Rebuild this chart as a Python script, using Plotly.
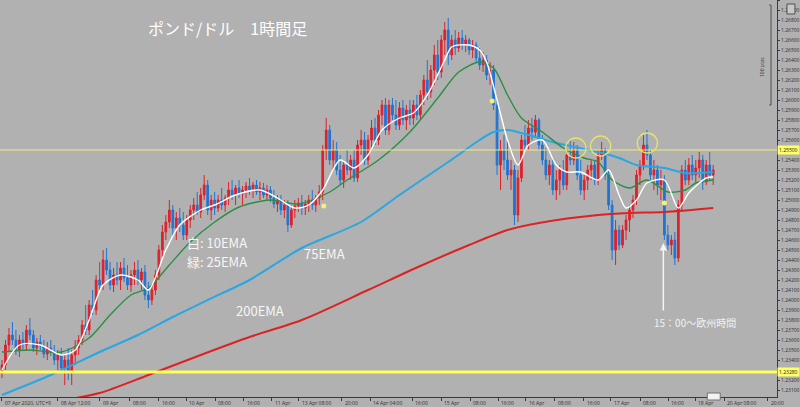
import plotly.graph_objects as go

# ---------------- data (GBP/USD, 1-hour bars) ----------------
bar_index = list(range(205))

opens = [1.2328,1.2335,1.2355,1.2365,1.2360,1.2350,1.2360,1.2355,1.2370,1.2365,
1.2352,1.2358,1.2354,1.2346,1.2352,1.2348,1.2340,1.2345,1.2332,1.2340,
1.2328,1.2345,1.2352,1.2360,1.2375,1.2370,1.2395,1.2390,1.2420,1.2415,
1.2440,1.2430,1.2415,1.2425,1.2420,1.2432,1.2422,1.2415,1.2425,1.2430,
1.2420,1.2428,1.2405,1.2400,1.2410,1.2425,1.2450,1.2468,1.2478,1.2490,
1.2472,1.2482,1.2475,1.2465,1.2480,1.2490,1.2495,1.2488,1.2505,1.2515,
1.2490,1.2500,1.2492,1.2500,1.2495,1.2502,1.2510,1.2505,1.2512,1.2506,
1.2510,1.2514,1.2510,1.2515,1.2508,1.2512,1.2505,1.2510,1.2502,1.2496,
1.2500,1.2490,1.2495,1.2475,1.2490,1.2494,1.2497,1.2492,1.2496,1.2500,
1.2495,1.2502,1.2508,1.2550,1.2570,1.2540,1.2550,1.2530,1.2520,1.2535,
1.2530,1.2540,1.2522,1.2555,1.2560,1.2540,1.2560,1.2572,1.2560,1.2585,
1.2595,1.2570,1.2595,1.2585,1.2575,1.2592,1.2580,1.2590,1.2582,1.2595,
1.2585,1.2605,1.2620,1.2608,1.2630,1.2645,1.2628,1.2660,1.2670,1.2645,
1.2660,1.2652,1.2662,1.2655,1.2660,1.2650,1.2655,1.2642,1.2635,1.2640,
1.2625,1.2630,1.2595,1.2535,1.2550,1.2540,1.2525,1.2530,1.2485,1.2522,
1.2560,1.2555,1.2572,1.2568,1.2580,1.2555,1.2540,1.2525,1.2535,1.2510,
1.2520,1.2530,1.2515,1.2545,1.2540,1.2550,1.2525,1.2510,1.2520,1.2530,
1.2535,1.2520,1.2545,1.2550,1.2525,1.2495,1.2450,1.2470,1.2455,1.2470,
1.2480,1.2490,1.2500,1.2525,1.2535,1.2555,1.2545,1.2525,1.2530,1.2515,
1.2520,1.2465,1.2455,1.2460,1.2442,1.2495,1.2530,1.2520,1.2535,1.2525,
1.2532,1.2540,1.2518,1.2535,1.2525]

highs = [1.2340,1.2360,1.2372,1.2378,1.2370,1.2365,1.2368,1.2375,1.2382,1.2370,
1.2362,1.2365,1.2360,1.2358,1.2360,1.2355,1.2350,1.2352,1.2345,1.2352,
1.2350,1.2360,1.2365,1.2380,1.2395,1.2400,1.2410,1.2425,1.2438,1.2450,
1.2452,1.2438,1.2432,1.2438,1.2438,1.2442,1.2435,1.2430,1.2438,1.2440,
1.2432,1.2435,1.2418,1.2415,1.2430,1.2455,1.2475,1.2485,1.2500,1.2495,
1.2488,1.2492,1.2488,1.2485,1.2495,1.2502,1.2508,1.2512,1.2525,1.2520,
1.2505,1.2508,1.2505,1.2512,1.2505,1.2518,1.2520,1.2515,1.2520,1.2514,
1.2518,1.2522,1.2518,1.2520,1.2518,1.2517,1.2515,1.2514,1.2510,1.2505,
1.2505,1.2500,1.2500,1.2495,1.2500,1.2502,1.2505,1.2500,1.2505,1.2510,
1.2505,1.2515,1.2555,1.2582,1.2575,1.2560,1.2558,1.2545,1.2540,1.2550,
1.2545,1.2550,1.2560,1.2570,1.2568,1.2565,1.2580,1.2582,1.2590,1.2600,
1.2602,1.2600,1.2602,1.2600,1.2598,1.2600,1.2595,1.2600,1.2600,1.2605,
1.2610,1.2625,1.2640,1.2635,1.2655,1.2660,1.2665,1.2678,1.2682,1.2665,
1.2670,1.2668,1.2670,1.2665,1.2662,1.2660,1.2658,1.2652,1.2648,1.2645,
1.2638,1.2635,1.2600,1.2560,1.2565,1.2560,1.2540,1.2535,1.2530,1.2565,
1.2575,1.2580,1.2582,1.2585,1.2582,1.2565,1.2552,1.2540,1.2542,1.2530,
1.2535,1.2540,1.2550,1.2560,1.2558,1.2555,1.2540,1.2525,1.2535,1.2540,
1.2540,1.2550,1.2558,1.2552,1.2530,1.2500,1.2480,1.2475,1.2475,1.2485,
1.2495,1.2505,1.2530,1.2540,1.2565,1.2570,1.2550,1.2540,1.2535,1.2530,
1.2525,1.2475,1.2465,1.2468,1.2500,1.2535,1.2540,1.2542,1.2545,1.2540,
1.2548,1.2545,1.2540,1.2548,1.2535]

lows = [1.2322,1.2330,1.2348,1.2355,1.2345,1.2343,1.2350,1.2350,1.2360,1.2348,
1.2345,1.2350,1.2342,1.2340,1.2344,1.2335,1.2330,1.2328,1.2315,1.2320,
1.2315,1.2335,1.2345,1.2355,1.2365,1.2365,1.2385,1.2385,1.2410,1.2410,
1.2425,1.2410,1.2408,1.2415,1.2410,1.2418,1.2410,1.2408,1.2415,1.2415,
1.2410,1.2400,1.2392,1.2395,1.2405,1.2420,1.2442,1.2460,1.2472,1.2465,
1.2460,1.2468,1.2460,1.2460,1.2472,1.2480,1.2485,1.2482,1.2500,1.2485,
1.2480,1.2485,1.2488,1.2490,1.2488,1.2495,1.2500,1.2495,1.2502,1.2495,
1.2502,1.2505,1.2502,1.2505,1.2500,1.2502,1.2500,1.2498,1.2492,1.2488,
1.2485,1.2482,1.2468,1.2472,1.2482,1.2488,1.2485,1.2485,1.2488,1.2490,
1.2488,1.2495,1.2500,1.2540,1.2535,1.2530,1.2525,1.2515,1.2512,1.2525,
1.2520,1.2518,1.2518,1.2545,1.2535,1.2535,1.2550,1.2555,1.2555,1.2575,
1.2565,1.2565,1.2580,1.2570,1.2570,1.2575,1.2570,1.2575,1.2575,1.2580,
1.2580,1.2595,1.2600,1.2602,1.2615,1.2620,1.2622,1.2645,1.2635,1.2640,
1.2645,1.2648,1.2650,1.2648,1.2645,1.2642,1.2638,1.2630,1.2628,1.2620,
1.2615,1.2590,1.2525,1.2510,1.2530,1.2520,1.2510,1.2475,1.2478,1.2518,
1.2550,1.2550,1.2560,1.2562,1.2550,1.2535,1.2520,1.2515,1.2505,1.2500,
1.2505,1.2510,1.2510,1.2535,1.2535,1.2520,1.2505,1.2500,1.2510,1.2520,
1.2515,1.2515,1.2540,1.2520,1.2490,1.2440,1.2435,1.2450,1.2452,1.2460,
1.2468,1.2482,1.2495,1.2515,1.2530,1.2540,1.2520,1.2510,1.2505,1.2500,
1.2460,1.2450,1.2445,1.2435,1.2438,1.2490,1.2515,1.2515,1.2520,1.2518,
1.2522,1.2510,1.2515,1.2520,1.2515]

closes = [1.2335,1.2355,1.2365,1.2360,1.2350,1.2360,1.2355,1.2370,1.2365,1.2352,
1.2358,1.2354,1.2346,1.2352,1.2348,1.2340,1.2345,1.2332,1.2340,1.2328,
1.2345,1.2352,1.2360,1.2375,1.2370,1.2395,1.2390,1.2420,1.2415,1.2440,
1.2430,1.2415,1.2425,1.2420,1.2432,1.2422,1.2415,1.2425,1.2430,1.2420,
1.2428,1.2405,1.2400,1.2410,1.2425,1.2450,1.2468,1.2478,1.2490,1.2472,
1.2482,1.2475,1.2465,1.2480,1.2490,1.2495,1.2488,1.2505,1.2515,1.2490,
1.2500,1.2492,1.2500,1.2495,1.2502,1.2510,1.2505,1.2512,1.2506,1.2510,
1.2514,1.2510,1.2515,1.2508,1.2512,1.2505,1.2510,1.2502,1.2496,1.2500,
1.2490,1.2495,1.2475,1.2490,1.2494,1.2497,1.2492,1.2496,1.2500,1.2495,
1.2502,1.2508,1.2550,1.2570,1.2540,1.2550,1.2530,1.2520,1.2535,1.2530,
1.2540,1.2522,1.2555,1.2560,1.2540,1.2560,1.2572,1.2560,1.2585,1.2595,
1.2570,1.2595,1.2585,1.2575,1.2592,1.2580,1.2590,1.2582,1.2595,1.2585,
1.2605,1.2620,1.2608,1.2630,1.2645,1.2628,1.2660,1.2670,1.2645,1.2660,
1.2652,1.2662,1.2655,1.2660,1.2650,1.2655,1.2642,1.2635,1.2640,1.2625,
1.2630,1.2595,1.2535,1.2550,1.2540,1.2525,1.2530,1.2485,1.2522,1.2560,
1.2555,1.2572,1.2568,1.2580,1.2555,1.2540,1.2525,1.2535,1.2510,1.2520,
1.2530,1.2515,1.2545,1.2540,1.2550,1.2525,1.2510,1.2520,1.2530,1.2535,
1.2520,1.2545,1.2550,1.2525,1.2495,1.2450,1.2470,1.2455,1.2470,1.2480,
1.2490,1.2500,1.2525,1.2535,1.2555,1.2545,1.2525,1.2530,1.2515,1.2520,
1.2465,1.2455,1.2460,1.2442,1.2495,1.2530,1.2520,1.2535,1.2525,1.2532,
1.2540,1.2518,1.2535,1.2525,1.2530]

ema10_idx = [0,5,11,17,21,25,29,34,39,42,47,51,57,61,67,74,79,84,88,92,97,101,105,109,114,118,
             122,127,129,134,137,139,142,145,148,151,155,159,162,166,171,174,177,179,182,185,190,194,197,202,204]
ema10_val = [1.2330,1.2355,1.2355,1.2345,1.2350,1.2380,1.2415,1.2425,1.2420,1.2410,1.2450,1.2475,1.2490,
             1.2495,1.2505,1.2510,1.2502,1.2492,1.2495,1.2510,1.2540,1.2532,1.2545,1.2570,1.2582,1.2587,
             1.2605,1.2640,1.2653,1.2655,1.2650,1.2638,1.2600,1.2560,1.2535,1.2555,1.2560,1.2535,1.2528,
             1.2528,1.2520,1.2530,1.2505,1.2492,1.2500,1.2517,1.2520,1.2492,1.2507,1.2522,1.2523]

ema25_idx = [0,8,17,25,31,37,42,48,54,61,68,77,85,94,99,108,117,125,131,137,141,145,149,155,161,
             167,171,175,180,185,191,196,199,204]
ema25_val = [1.2348,1.2350,1.2348,1.2362,1.2385,1.2405,1.2412,1.2435,1.2458,1.2478,1.2493,1.2500,1.2496,
             1.2508,1.2520,1.2540,1.2568,1.2602,1.2628,1.2638,1.2632,1.2605,1.2582,1.2568,1.2552,1.2542,
             1.2538,1.2520,1.2512,1.2520,1.2508,1.2510,1.2517,1.2520]

ema75_idx = [0,14,28,39,49,59,71,86,103,114,128,137,141,145,151,159,171,177,182,190,196,204]
ema75_val = [1.2305,1.2325,1.2348,1.2365,1.2383,1.2400,1.2420,1.2452,1.2478,1.2505,1.2538,1.2560,1.2568,
             1.2570,1.2565,1.2557,1.2548,1.2542,1.2535,1.2532,1.2527,1.2528]

ema200_idx = [18,28,42,57,71,86,105,120,134,145,154,171,180,190,204]
ema200_val = [1.2300,1.2307,1.2325,1.2345,1.2363,1.2380,1.2410,1.2434,1.2455,1.2470,1.2477,1.2485,1.2487,
              1.2488,1.2492]

xtick_pos = [0,16,28,36.6,44.9,52.9,61.1,69.4,77.4,85.1,97.4,105.7,117.7,126,134.3,142.3,150.3,158.6,
             166.9,174.6,183.1,191.1,198.9,207.1,219.7]
xtick_text = ["07 Apr 2020, UTC+9","08 Apr 12:00","09 Apr","08:00","16:00","10 Apr","08:00","16:00",
              "11 Apr","13 Apr 08:00","20:00","14 Apr 04:00","16:00","15 Apr","08:00","16:00","16 Apr",
              "08:00","16:00","17 Apr","08:00","16:00","18 Apr","20 Apr 08:00","20:00"]

level_upper = 1.2550
level_lower = 1.2328

mark_idx = [92.3, 140.6, 190]
mark_val = [1.2494, 1.2599, 1.2497]

circle_idx = [164.6, 171.7, 185.1]
circle_val = [1.2552, 1.2554, 1.2557]

# ---------------- styling ----------------
BG = "#b1b1b1"
RED = "#e0202a"
BLUE = "#1f74d4"
JP = "Noto Sans CJK JP"

# price-axis ticks every 10 pips, skipping those hidden behind the level labels
ytick_vals = [round(1.2300 + k * 0.001, 4) for k in range(41)]
ytick_vals = [v for v in ytick_vals
              if abs(v - level_upper) > 0.0006 and abs(v - level_lower) > 0.0006]

fig = go.Figure()

fig.add_trace(go.Candlestick(
    x=bar_index, open=opens, high=highs, low=lows, close=closes,
    increasing=dict(line=dict(color=RED, width=1), fillcolor=RED),
    decreasing=dict(line=dict(color=BLUE, width=1), fillcolor=BLUE),
    whiskerwidth=0, hoverinfo="skip", showlegend=False))

for xs, ys, col, w in [(ema200_idx, ema200_val, "#dc2222", 2.0),
                       (ema75_idx, ema75_val, "#2aa6e2", 2.0),
                       (ema25_idx, ema25_val, "#2b8f43", 1.4),
                       (ema10_idx, ema10_val, "#ffffff", 1.4)]:
    fig.add_trace(go.Scatter(x=xs, y=ys, mode="lines",
                             line=dict(color=col, width=w, shape="spline", smoothing=0.8),
                             hoverinfo="skip", showlegend=False))

fig.add_trace(go.Scatter(x=mark_idx, y=mark_val, mode="markers",
                         marker=dict(color="#f4f07a", size=5), hoverinfo="skip", showlegend=False))

# horizontal levels
fig.add_hline(y=level_upper, line=dict(color="#ecec7a", width=1))
fig.add_hline(y=level_lower, line=dict(color="#ffff55", width=3))

# circles
for cx, cy in zip(circle_idx, circle_val):
    fig.add_shape(type="circle", xref="x", yref="y",
                  x0=cx - 2.9, x1=cx + 2.9, y0=cy - 0.0010, y1=cy + 0.0010,
                  line=dict(color="#e8e26a", width=1.3))

# 100 pips scale bar
fig.add_shape(type="line", xref="paper", yref="paper", x0=0.9923, x1=0.9923,
              y0=1 - 5 / 397, y1=1 - 105 / 397, line=dict(color="#505050", width=1))
for yy in (5, 105):
    fig.add_shape(type="line", xref="paper", yref="paper", x0=0.990, x1=0.9923,
                  y0=1 - yy / 397, y1=1 - yy / 397, line=dict(color="#505050", width=1))
# small corner icon and chart-shift marker
fig.add_shape(type="rect", xref="paper", yref="paper", x0=790 / 780, x1=798 / 780,
              y0=1 - 14 / 397, y1=1 - 4 / 397, line=dict(color="#505050", width=1),
              fillcolor="#c8c8c8")
fig.add_shape(type="rect", xref="paper", yref="paper", x0=710 / 780, x1=723 / 780,
              y0=-3 / 397, y1=4 / 397, line=dict(color="#707070", width=1),
              fillcolor="#f2f2f2")

ann = []
ann.append(dict(xref="paper", yref="paper", x=0.9872, y=1 - 55 / 397, text="100 pips",
                showarrow=False, textangle=-90, font=dict(size=5, color="#404040")))
# title
ann.append(dict(xref="paper", yref="paper", x=228 / 780, y=1 - 28 / 397, xanchor="center",
                yanchor="middle", text="ポンド/ドル　1時間足",
                showarrow=False, font=dict(family=JP, size=16, color="#ffffff")))
ann.append(dict(x=52.6, y=1.2458, text="白: 10EMA", showarrow=False, xanchor="left",
                font=dict(family=JP, size=13, color="#f6f6f6")))
ann.append(dict(x=52.6, y=1.2439, text="緑: 25EMA", showarrow=False, xanchor="left",
                font=dict(family=JP, size=13, color="#f6f6f6")))
ann.append(dict(x=86.0, y=1.2447, text="75EMA", showarrow=False, xanchor="left",
                font=dict(family=JP, size=13, color="#f6f6f6")))
ann.append(dict(x=66.5, y=1.2390, text="200EMA", showarrow=False, xanchor="left",
                font=dict(family=JP, size=13, color="#f6f6f6")))
ann.append(dict(x=198.9, y=1.2378, text="15：00～欧州時間", showarrow=False,
                font=dict(family=JP, size=10, color="#f2f2f2")))
# arrow
ann.append(dict(x=189.7, y=1.2457, ax=189.7, ay=1.2388, axref="x", ayref="y", text="",
                showarrow=True, arrowhead=2, arrowsize=1, arrowwidth=1.5, arrowcolor="#f4f4f4"))
# level labels
for lv in (level_upper, level_lower):
    ann.append(dict(xref="paper", yref="y", x=1.0, y=lv, xanchor="left", text=f"{lv:.5f}",
                    showarrow=False, bgcolor="#ffff66", font=dict(size=5, color="#202020"),
                    borderpad=1))
# x tick labels
for p, t in zip(xtick_pos, xtick_text):
    ann.append(dict(x=p, xref="x", yref="paper", y=0, yanchor="top", xanchor="left", xshift=1,
                    yshift=-1, text=t, showarrow=False, font=dict(size=5, color="#303030")))

fig.update_layout(
    width=800, height=407,
    margin=dict(l=0, r=20, t=0, b=10),
    paper_bgcolor=BG, plot_bgcolor=BG,
    showlegend=False, hovermode=False,
    annotations=ann,
    xaxis=dict(range=[-0.57, 222.3], showgrid=False, zeroline=False,
               rangeslider=dict(visible=False), showline=True, linecolor="#3a3a3a", linewidth=1,
               tickvals=xtick_pos, showticklabels=False, ticks="outside", ticklen=3,
               tickcolor="#3a3a3a"),
    yaxis=dict(side="right", range=[1.2303, 1.2700], tickvals=ytick_vals, tickformat=".5f",
               showgrid=False, zeroline=False, showline=True, linecolor="#3a3a3a", linewidth=1,
               ticks="outside", ticklen=2, tickcolor="#3a3a3a",
               tickfont=dict(size=5, color="#303030")),
)

fig.write_html("out.html")
